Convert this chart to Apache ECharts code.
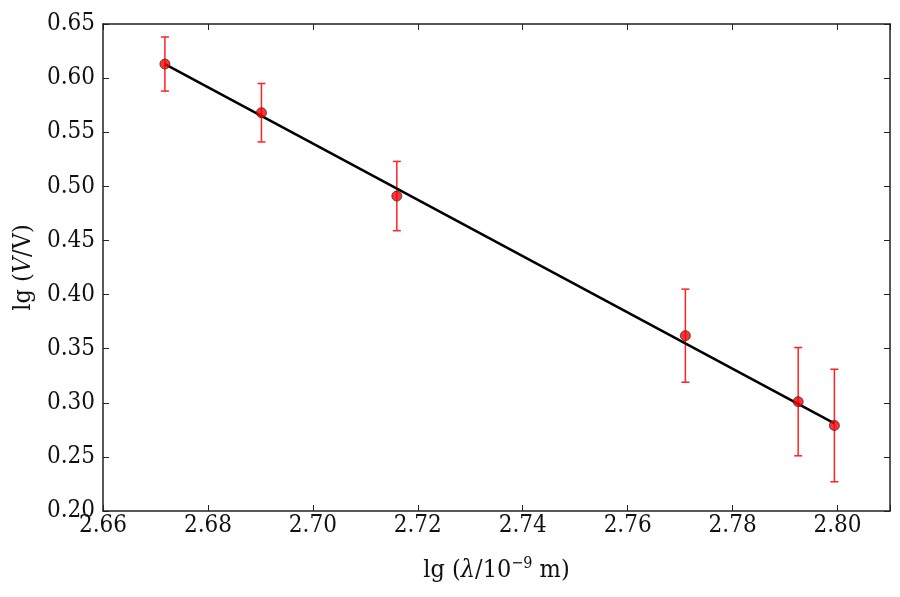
<!DOCTYPE html>
<html>
<head>
<meta charset="utf-8" />
<title>lg V vs lg lambda</title>
<script src="https://cdn.jsdelivr.net/npm/echarts@6/dist/echarts.min.js"></script>
<style>
  html, body { margin: 0; padding: 0; background: #fff; }
  #main { width: 900px; height: 597px; }
</style>
</head>
<body>
<div id="main"></div>
<script>
// measured points
var lgLambda = [2.6718, 2.6902, 2.7160, 2.7710, 2.7925, 2.7994];
var lgV = [0.613, 0.568, 0.491, 0.362, 0.301, 0.279];
var errV = [0.025, 0.027, 0.032, 0.043, 0.050, 0.052];
// fitted line end points
var fitX = [2.6718, 2.7994];
var fitY = [0.613, 0.281];

var xTicks = [2.66, 2.68, 2.70, 2.72, 2.74, 2.76, 2.78, 2.80];
var yTicks = [0.20, 0.25, 0.30, 0.35, 0.40, 0.45, 0.50, 0.55, 0.60, 0.65];

var font = '"DejaVu Serif Condensed", "DejaVu Serif", "Liberation Serif", serif';

var pts = lgLambda.map(function (x, i) { return [x, lgV[i]]; });
var bars = lgLambda.map(function (x, i) { return [x, lgV[i] - errV[i], lgV[i] + errV[i]]; });
var fit = fitX.map(function (x, i) { return [x, fitY[i]]; });

var myChart = echarts.init(document.getElementById('main'));

function axisBase(show) {
  return {
    type: 'value',
    axisLine: { show: true, onZero: false, lineStyle: { color: '#222', width: 1.5 } },
    axisTick: { show: true, inside: true, length: 6, lineStyle: { color: '#222' } },
    splitLine: { show: false },
    axisLabel: { show: show, color: '#111', fontFamily: font, fontSize: 24 }
  };
}

var xBottom = axisBase(true);
xBottom.min = 2.66; xBottom.max = 2.81; xBottom.interval = 0.02;
xBottom.axisLabel.formatter = function (v) { return xTicks.indexOf(+v.toFixed(2)) >= 0 ? v.toFixed(2) : ''; };
xBottom.axisLabel.margin = 3;
xBottom.name = '{n|lg (}{i|λ}{n|/10}{s|−9}{n| m)}';
xBottom.nameLocation = 'middle';
xBottom.nameGap = 45;
xBottom.nameTextStyle = {
  rich: {
    n: { fontFamily: font, fontSize: 25, color: '#111' },
    i: { fontFamily: font, fontSize: 25, fontStyle: 'italic', color: '#111' },
    s: { fontFamily: font, fontSize: 16, color: '#111', verticalAlign: 'top', padding: [0, 0, 12, 0] }
  }
};

var xTop = axisBase(false);
xTop.min = 2.66; xTop.max = 2.81; xTop.interval = 0.02; xTop.position = 'top';

var yLeft = axisBase(true);
yLeft.min = 0.20; yLeft.max = 0.65; yLeft.interval = 0.05;
yLeft.axisLabel.formatter = function (v) { return yTicks.indexOf(+v.toFixed(2)) >= 0 ? v.toFixed(2) : ''; };
yLeft.axisLabel.margin = 8;
yLeft.name = '{n|lg (}{i|V}{n|/V)}';
yLeft.nameLocation = 'middle';
yLeft.nameGap = 64;
yLeft.nameTextStyle = {
  rich: {
    n: { fontFamily: font, fontSize: 25, color: '#111' },
    i: { fontFamily: font, fontSize: 25, fontStyle: 'italic', color: '#111' }
  }
};

var yRight = axisBase(false);
yRight.min = 0.20; yRight.max = 0.65; yRight.interval = 0.05; yRight.position = 'right';

myChart.setOption({
  animation: false,
  backgroundColor: '#fff',
  grid: { left: 103, right: 10, top: 24, bottom: 86, outerBoundsMode: 'none' },
  xAxis: [xBottom, xTop],
  yAxis: [yLeft, yRight],
  series: [
    {
      type: 'line',
      data: fit,
      symbol: 'none',
      lineStyle: { color: '#000', width: 2.5 },
      z: 3
    },
    {
      type: 'custom',
      data: bars,
      z: 2,
      renderItem: function (params, api) {
        var x = api.value(0);
        var lo = api.coord([x, api.value(1)]);
        var hi = api.coord([x, api.value(2)]);
        var cap = 4;
        var style = { stroke: '#f22', lineWidth: 1.5 };
        return {
          type: 'group',
          children: [
            { type: 'line', shape: { x1: lo[0], y1: lo[1], x2: hi[0], y2: hi[1] }, style: style },
            { type: 'line', shape: { x1: lo[0] - cap, y1: lo[1], x2: lo[0] + cap, y2: lo[1] }, style: style },
            { type: 'line', shape: { x1: hi[0] - cap, y1: hi[1], x2: hi[0] + cap, y2: hi[1] }, style: style }
          ]
        };
      }
    },
    {
      type: 'scatter',
      data: pts,
      symbol: 'circle',
      symbolSize: 10,
      itemStyle: { color: '#f00', borderColor: '#333', borderWidth: 1 },
      z: 4
    }
  ]
});
</script>
</body>
</html>
